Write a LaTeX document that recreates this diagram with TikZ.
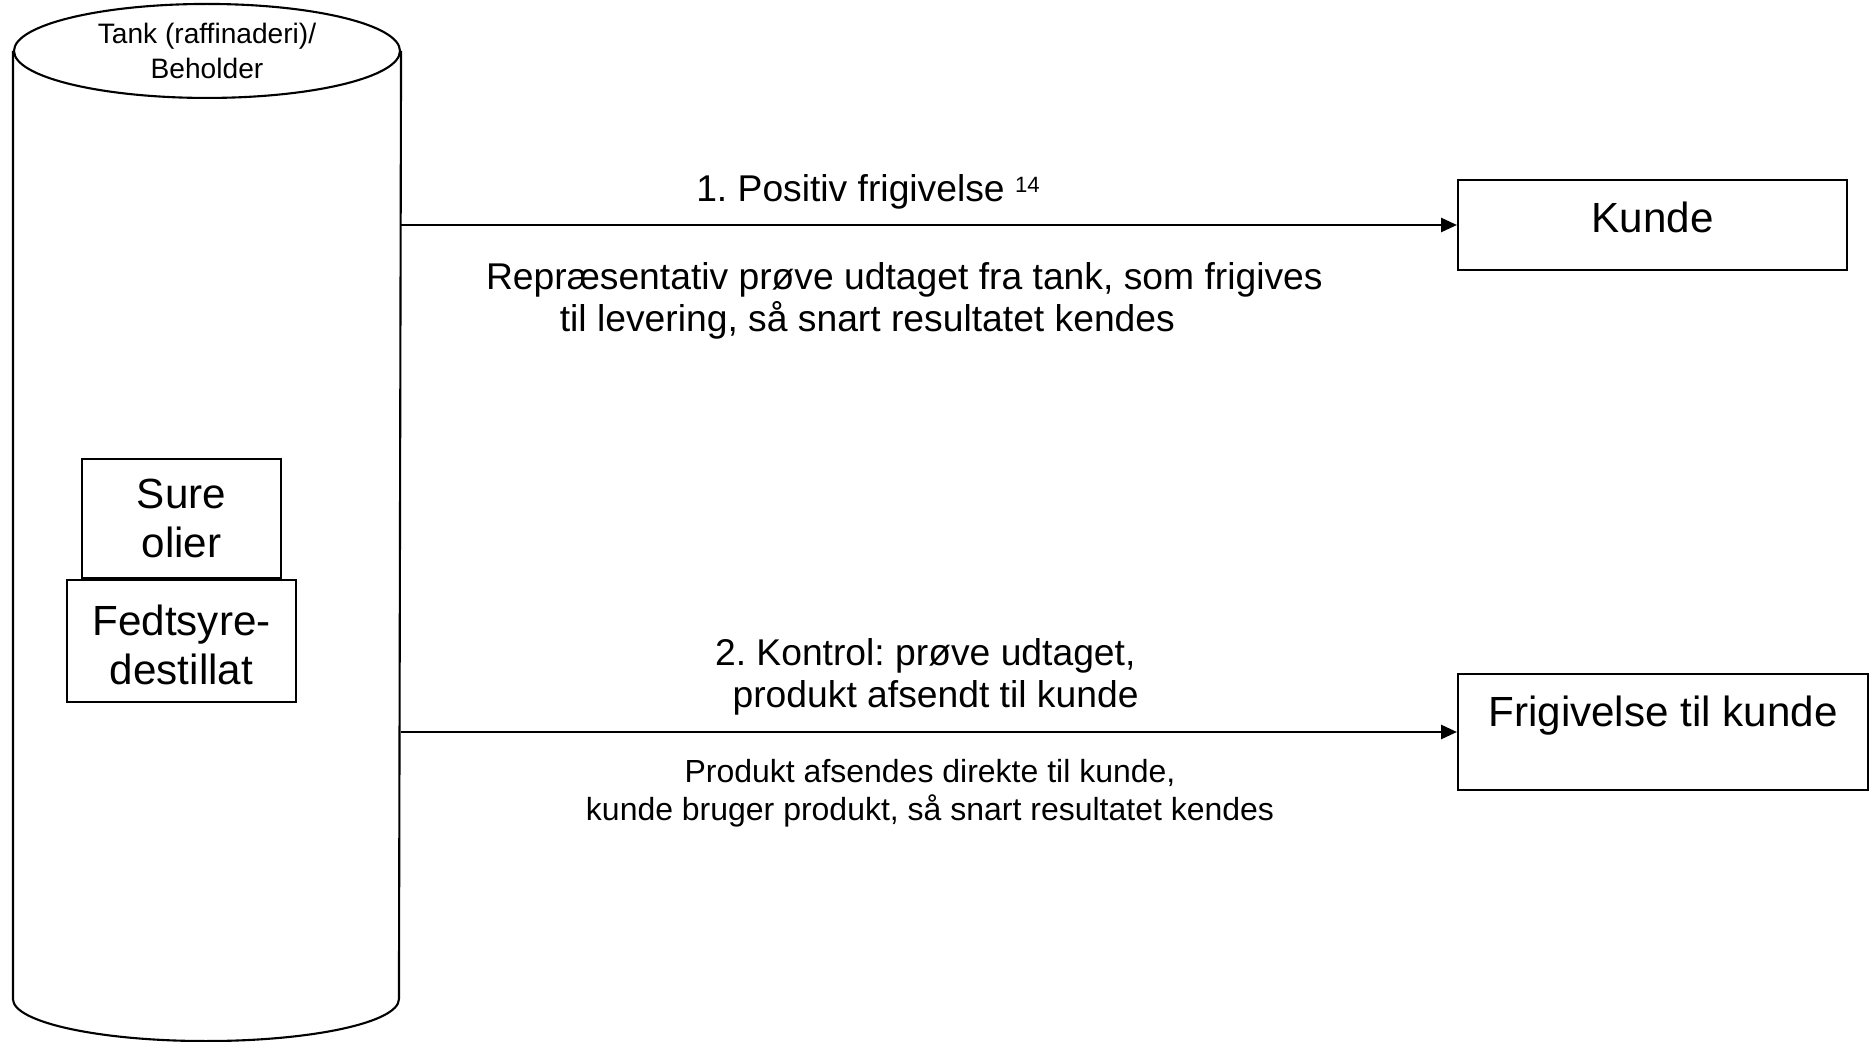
\documentclass[tikz,border=0pt]{standalone}
\usepackage{fontspec}
\setmainfont{Liberation Sans}
\usetikzlibrary{positioning,arrows.meta}
\frenchspacing

\begin{document}
\begin{tikzpicture}[>={Triangle[length=4.5pt,width=4pt]}, line width=0.6pt]
	\tikzstyle{box}=[rectangle, draw=black, inner sep=2pt, align=center, font=\fontsize{12}{14}\selectfont]
	\tikzstyle{lbl}=[inner sep=0pt, font=\fontsize{10.6}{12}\selectfont]
	\tikzstyle{small}=[inner sep=0pt, align=center, font=\fontsize{9.1}{10.8}\selectfont]
	
	\useasboundingbox (0,0) rectangle (18.72,10.41);
	
	% tank
	\node at (2.07,5.16) [minimum width=3.86cm, minimum height=9.46cm, inner sep=0pt] (tank) {};
	\draw (tank.north) ellipse (1.93 and 0.47);
	\draw (tank.north west) -- (tank.south west) arc[start angle=180, end angle=360, x radius=1.93, y radius=0.42] -- (tank.north east);
	\draw node at (tank.north) [inner sep=0pt, align=center, font=\fontsize{8}{10}\selectfont] (tanklbl) {Tank (raffinaderi)/\\Beholder};
	
	\draw node at (1.815,5.225) [box, minimum width=1.99cm, minimum height=1.19cm] (sure) {Sure\\olier};
	\draw node [box, minimum width=2.29cm, minimum height=1.19cm, text height=27.8pt, text depth=3pt, below=0pt of sure] (fedt) {Fedtsyre-\\destillat};
	
	% kunder
	\draw node at (16.525,8.16) [box, minimum width=3.89cm, minimum height=0.9cm, text height=8.8pt, text depth=4.8pt] (kunde) {Kunde};
	\draw node at (16.63,3.09) [box, minimum width=4.10cm, minimum height=1.16cm, text height=8.8pt, text depth=12pt] (frig) {Frigivelse til kunde};
	
	\draw [->] (tank.east |- kunde.west) to (kunde.west);
	\draw [->] (tank.east |- frig.west) to (frig.west);
	
	% tekster
	\draw node at (8.68,8.49) [lbl] (pos) {1. Positiv frigivelse {\fontsize{6.3}{7}\selectfont\raisebox{2.6pt}{14}}};
	\draw node at (4.85,7.40) [lbl, anchor=west, align=left] (rep) {Repræsentativ prøve udtaget fra tank, som frigives\\\hspace*{21pt}til levering, så snart resultatet kendes};
	\draw node at (7.14,3.64) [lbl, anchor=west, align=left] (ktrl) {2. Kontrol: prøve udtaget,\\\hspace*{5pt}produkt afsendt til kunde};
	\draw node at (9.30,2.48) [small] (prod) {Produkt afsendes direkte til kunde,\\kunde bruger produkt, så snart resultatet kendes};
\end{tikzpicture}
\end{document}
